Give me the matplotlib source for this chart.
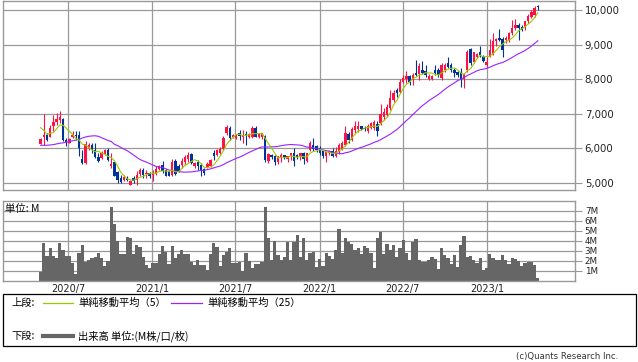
import matplotlib
matplotlib.use("Agg")
import matplotlib.pyplot as plt
import matplotlib.dates as mdates
from matplotlib.patches import Rectangle
from matplotlib.lines import Line2D
import numpy as np
import pandas as pd

plt.rcParams['font.family'] = ['DejaVu Sans']
JP = ['Noto Sans CJK JP', 'DejaVu Sans']

# ---------------- data (weekly) ----------------
opens = [6135, 6330, 6395, 6330, 6640, 6750, 6810, 6860, 6250, 6170,
         6330, 6400, 6400, 5690, 5580, 6000, 6100, 5960, 5750, 5720,
         5850, 5960, 5480, 5605, 5310, 5145, 5100, 5145, 4950, 5145,
         5100, 5260, 5380, 5260, 5300, 5240, 5270, 5400, 5530, 5380,
         5340, 5220, 5645, 5500, 5530, 5600, 5690, 5840, 5480, 5600,
         5510, 5400, 5460, 5480, 5860, 5800, 5860, 5980, 6440, 6590,
         6330, 6300, 6440, 6330, 6430, 6320, 6320, 6600, 6340, 6320,
         6360, 5625, 5800, 5780, 5600, 5730, 5800, 5700, 5770, 5865,
         5800, 5750, 5860, 5650, 5960, 6110, 6060, 6010, 5930, 5790,
         5880, 5930, 5770, 5910, 5960, 6100, 6410, 6250, 6520, 6560,
         6640, 6600, 6490, 6600, 6600, 6710, 6730, 6920, 6970, 7160,
         7400, 7690, 7640, 7930, 8000, 8080, 7980, 8190, 8150, 8270,
         8250, 8000, 8000, 8270, 8270, 8030, 8270, 8460, 8400, 8270,
         8200, 8220, 8000, 8270, 8870, 8510, 8650, 8800, 8650, 8410,
         8650, 8730, 9100, 9180, 9150, 9130, 9130, 9330, 9470, 9570,
         9500, 9520, 9680, 9810, 9850, 10120]
highs = [6300, 6990, 6440, 6680, 6970, 7020, 7090, 6880, 6300, 6290,
         6490, 6490, 6490, 5960, 6200, 6150, 6150, 6150, 5860, 5920,
         5990, 6000, 5860, 5620, 5340, 5240, 5240, 5200, 5100, 5200,
         5340, 5420, 5430, 5380, 5320, 5390, 5480, 5530, 5640, 5400,
         5360, 5680, 5700, 5550, 5720, 5820, 5900, 5870, 5620, 5670,
         5580, 5430, 5620, 5700, 5960, 5990, 6030, 6350, 6680, 6640,
         6420, 6430, 6540, 6540, 6490, 6440, 6640, 6640, 6420, 6440,
         6400, 5870, 5850, 5820, 5780, 5860, 5810, 5780, 5870, 6010,
         5840, 5880, 5900, 5870, 6200, 6300, 6110, 6060, 5950, 5930,
         5940, 6010, 6030, 6150, 6200, 6650, 6480, 6620, 6780, 6780,
         6660, 6640, 6700, 6760, 6810, 6780, 7290, 7170, 7270, 7700,
         7700, 7740, 8000, 8130, 8250, 8130, 8190, 8560, 8460, 8520,
         8410, 8150, 8130, 8410, 8310, 8460, 8480, 8650, 8460, 8320,
         8250, 8320, 8180, 8850, 8900, 8800, 8770, 8950, 8700, 8650,
         9150, 9340, 9200, 9450, 9230, 9250, 9370, 9700, 9730, 9620,
         9560, 9680, 9880, 10000, 10120, 10140]
lows = [6130, 6090, 6200, 6330, 6490, 6680, 6730, 6200, 6060, 6150,
        6290, 6250, 5770, 5560, 5560, 5950, 5870, 5720, 5620, 5680,
        5800, 5640, 5440, 5190, 5000, 5000, 5060, 5060, 4930, 5000,
        4950, 5190, 5140, 5140, 5150, 5050, 5240, 5380, 5300, 5190,
        5190, 5190, 5240, 5320, 5430, 5530, 5620, 5550, 5440, 5380,
        5200, 5240, 5430, 5450, 5670, 5780, 5840, 5960, 6400, 6250,
        6300, 6280, 6250, 6150, 6110, 6300, 6300, 6320, 6300, 6280,
        5620, 5570, 5700, 5510, 5560, 5620, 5690, 5620, 5670, 5480,
        5700, 5670, 5560, 5620, 5930, 5930, 5900, 5820, 5720, 5600,
        5800, 5740, 5740, 5840, 5940, 6060, 6150, 6200, 6450, 6460,
        6540, 6500, 6450, 6560, 6540, 6350, 6690, 6820, 6920, 7110,
        7350, 7500, 7590, 7880, 7880, 7830, 7830, 8100, 7980, 8150,
        8060, 7980, 7980, 8130, 8050, 7980, 8200, 8310, 8200, 8060,
        8050, 7770, 7740, 8220, 8410, 8460, 8600, 8650, 8500, 8360,
        8630, 8700, 8950, 9100, 8650, 9050, 9080, 9270, 9420, 9130,
        9400, 9420, 9610, 9760, 9800, 10000]
closes = [6270, 6400, 6250, 6600, 6750, 6850, 6920, 6230, 6180, 6270,
          6400, 6350, 6010, 5580, 6135, 6100, 5960, 5750, 5650, 5865,
          5940, 5670, 5550, 5210, 5100, 5020, 5165, 5100, 5070, 5050,
          5240, 5370, 5240, 5290, 5210, 5290, 5400, 5500, 5340, 5210,
          5210, 5600, 5260, 5340, 5645, 5740, 5820, 5580, 5580, 5480,
          5340, 5290, 5550, 5670, 5770, 5940, 5980, 6300, 6615, 6300,
          6395, 6395, 6350, 6395, 6380, 6410, 6600, 6340, 6410, 6440,
          5670, 5840, 5740, 5600, 5770, 5800, 5740, 5770, 5860, 5625,
          5740, 5870, 5690, 5860, 6150, 5980, 5960, 5865, 5790, 5900,
          5930, 5770, 5930, 6100, 6150, 6440, 6250, 6560, 6635, 6640,
          6550, 6560, 6640, 6730, 6750, 6490, 7000, 7040, 7190, 7450,
          7600, 7610, 7930, 8030, 8080, 7930, 8125, 8125, 8370, 8190,
          8120, 8100, 8100, 8170, 8120, 8410, 8410, 8360, 8270, 8170,
          8120, 7980, 8150, 8800, 8460, 8800, 8720, 8700, 8540, 8510,
          8830, 9115, 9150, 9120, 8850, 9200, 9330, 9470, 9570, 9470,
          9420, 9670, 9840, 9950, 10050, 10080]
volumes_m = [0.93, 3.83, 2.5, 3.33, 2.5, 2.33, 3.83, 3.1, 2.5, 2.5,
             1.83, 0.73, 2.83, 3.6, 1.93, 2.1, 2.33, 2.43, 2.83, 2.27,
             1.53, 2.0, 7.4, 5.67, 4.0, 2.67, 2.67, 4.4, 4.27, 2.67,
             3.6, 3.43, 2.43, 1.6, 1.33, 1.83, 1.83, 2.67, 3.5, 2.93,
             1.67, 3.5, 2.33, 2.67, 3.1, 2.67, 2.67, 1.93, 1.6, 2.07,
             1.6, 1.6, 1.07, 2.67, 3.8, 3.4, 1.53, 2.6, 2.93, 3.33,
             1.83, 1.77, 1.93, 1.0, 2.77, 2.0, 1.27, 1.7, 1.7, 1.87,
             7.4, 4.27, 2.07, 4.0, 2.6, 2.07, 2.4, 3.9, 2.07, 3.9,
             4.6, 2.4, 4.33, 2.07, 2.77, 2.93, 1.43,
             2.17, 1.5, 2.83, 2.5, 2.17, 3.1, 5.2, 2.83, 4.33, 3.93,
             3.67, 3.07, 3.33, 2.73, 3.5, 3.33, 2.83, 1.33, 4.33, 4.9,
             2.73, 3.73, 3.07, 3.6, 2.4, 3.27, 4.07, 2.83, 2.1, 3.9,
             4.23, 2.07, 1.93, 1.93, 2.07, 2.4, 2.23, 1.17, 3.33, 2.6,
             2.27, 1.73, 2.6, 1.43, 3.6, 4.5, 2.4, 2.5, 2.07, 1.77,
             2.33, 1.07, 1.33, 2.73, 2.27, 2.07, 2.07, 2.6, 2.07, 1.67,
             2.33, 2.23, 2.0, 1.5, 1.83, 1.93, 1.93, 1.6, 0.27]
# moving-average values before enough weekly history is visible
ma5_lead = [6600, 6520, 6400, 6440]
ma25_lead = [6090, 6090, 6090, 6100, 6110, 6130, 6150, 6160, 6180, 6200,
             6220, 6240, 6260, 6300, 6330, 6350, 6360, 6365, 6350, 6310,
             6270, 6230, 6200, 6120]

price_ticks = [5000, 6000, 7000, 8000, 9000, 10000]
price_labels = ["5,000", "6,000", "7,000", "8,000", "9,000", "10,000"]
vol_ticks = [1, 2, 3, 4, 5, 6, 7]
vol_labels = ["1M", "2M", "3M", "4M", "5M", "6M", "7M"]
x_ticks = ["2020-07-01", "2021-01-01", "2021-07-01", "2022-01-01", "2022-07-01", "2023-01-01"]
x_labels = ["2020/7", "2021/1", "2021/7", "2022/1", "2022/7", "2023/1"]

n = len(closes)
dates = pd.date_range(end="2023-04-22", periods=n, freq="7D")
x = mdates.date2num(dates.to_pydatetime())

cs = pd.Series(closes, dtype=float)
ma5 = cs.rolling(5).mean().to_numpy()
ma5[:4] = ma5_lead
ma25 = cs.rolling(25).mean().to_numpy()
ma25[:24] = ma25_lead

# ---------------- figure ----------------
W, H = 638, 362
fig = plt.figure(figsize=(W / 100, H / 100), dpi=100)
fig.patch.set_facecolor("white")

def rect(l, t, r, b):
    return [l / W, 1 - b / H, (r - l) / W, (b - t) / H]

GRID = "#999999"
RED = "#FF1144"
BLUE = "#003399"

xmin = mdates.date2num(pd.Timestamp("2020-02-10"))
xmax = mdates.date2num(pd.Timestamp("2023-07-12"))
xt = mdates.date2num(pd.to_datetime(x_ticks).to_pydatetime())

ax1 = fig.add_axes(rect(3, 1, 575, 190))
ax2 = fig.add_axes(rect(3, 201, 575, 281))

for ax in (ax1, ax2):
    ax.set_xlim(xmin, xmax)
    for s in ax.spines.values():
        s.set_color(GRID)
        s.set_linewidth(1.0)
    ax.set_xticks(xt)
    ax.yaxis.tick_right()
    ax.tick_params(axis="y", which="both", direction="out", length=5,
                   color=GRID, width=0.8, pad=2)
    ax.tick_params(axis="x", length=0)
    for v in xt:
        ax.axvline(v, color=GRID, lw=0.9, zorder=0)

# price panel
ax1.set_ylim(4798, 10260)
ax1.set_yticks(price_ticks)
ax1.set_yticklabels(price_labels, fontsize=7.3, color="#222222")
ax1.set_xticklabels([])
for v in price_ticks:
    ax1.axhline(v, color=GRID, lw=0.9, zorder=0)

op = np.array(opens, float); cl = np.array(closes, float)
hi = np.array(highs, float); lo = np.array(lows, float)
up = cl >= op
cols = np.where(up, RED, BLUE)
ax1.vlines(x, lo, hi, colors=cols, lw=0.8, zorder=2)
body_bot = np.minimum(op, cl)
body_h = np.maximum(np.abs(cl - op), 25)
ax1.bar(x, body_h, bottom=body_bot, width=5.2, color=cols, lw=0, zorder=2)

ax1.plot(x, ma25, color="#9922FF", lw=0.8, zorder=3)
ax1.plot(x, ma5, color="#99CC00", lw=0.8, zorder=3)

# volume panel
ax2.set_ylim(0, 8)
ax2.set_yticks(vol_ticks)
ax2.set_yticklabels(vol_labels, fontsize=6.3, color="#222222")
for v in vol_ticks:
    ax2.axhline(v, color=GRID, lw=0.9, zorder=0)
ax2.bar(x, volumes_m, width=7.0, color="#666666", lw=0, zorder=2)
ax2.set_xticklabels(x_labels, fontsize=7, color="#222222")
ax2.tick_params(axis="x", pad=2)
ax2.text(0.003, 0.96, "単位: M", transform=ax2.transAxes, fontsize=7.5,
         family=JP, va="top", ha="left", color="#111111")

# legend box
fig.add_artist(Rectangle((3 / W, 1 - 346 / H), 633 / W, 52 / H,
                         transform=fig.transFigure, fill=False,
                         edgecolor="black", lw=0.9))
def fy(y):
    return 1 - y / H
def fx(xx):
    return xx / W
fs = 7.4
fig.text(fx(11), fy(303), "上段:", family=JP, fontsize=fs, va="center", ha="left")
fig.add_artist(Line2D([fx(43), fx(73)], [fy(303), fy(303)], color="#99CC00", lw=0.9))
fig.text(fx(78), fy(303), "単純移動平均（5）", family=JP, fontsize=fs, va="center", ha="left")
fig.add_artist(Line2D([fx(171), fx(202)], [fy(303), fy(303)], color="#9922FF", lw=0.9))
fig.text(fx(207), fy(303), "単純移動平均（25）", family=JP, fontsize=fs, va="center", ha="left")
fig.text(fx(11), fy(336), "下段:", family=JP, fontsize=fs, va="center", ha="left")
fig.add_artist(Line2D([fx(43), fx(73)], [fy(336), fy(336)], color="#666666", lw=3.0))
fig.text(fx(78), fy(336), "出来高 単位:(M株/口/枚)", family=JP, fontsize=fs, va="center", ha="left")

fig.text(fx(618), fy(356), "(c)Quants Research Inc.", fontsize=6.1, color="#333333",
         va="center", ha="right")

fig.savefig("out.png", dpi=100, facecolor="white")
